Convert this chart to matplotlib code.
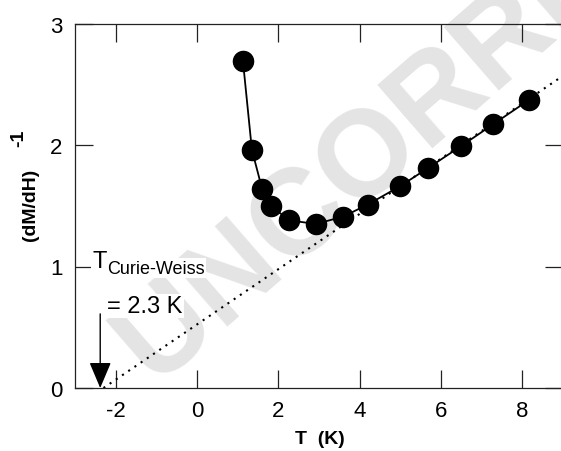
import numpy as np
import matplotlib
matplotlib.use('Agg')
import matplotlib.pyplot as plt

plt.rcParams['font.family'] = ['Liberation Sans', 'DejaVu Sans']

# data
temp = [1.13, 1.35, 1.60, 1.81, 2.27, 2.92, 3.59, 4.20, 4.99, 5.68, 6.49, 7.28, 8.16]
inv_susc = [2.69, 1.96, 1.64, 1.50, 1.38, 1.35, 1.41, 1.51, 1.66, 1.81, 1.99, 2.17, 2.37]
fit_temp = [-2.3, 9.0]      # Curie-Weiss line
fit_inv = [0.0, 2.57]
t_cw = -2.38                # arrow position
x_ticks = [-2, 0, 2, 4, 6, 8]
y_ticks = [0, 1, 2, 3]

W, H = 561, 452
fig = plt.figure(figsize=(W / 100, H / 100), dpi=100)
ax = fig.add_axes([75 / W, 1 - 389 / H, (563 - 75) / W, (389 - 24.5) / H])

# watermark, behind everything in the axes
ax.text(0.275, 0.15, 'UNCORRECTED', fontsize=88, fontweight='bold', color='#e4e4e4',
        rotation=41, rotation_mode='anchor', ha='left', va='baseline', zorder=0,
        transform=fig.transFigure, clip_on=False)

ax.plot(fit_temp, fit_inv, color='black', lw=1.5, linestyle=(0, (1, 2.6)), zorder=2)
ax.plot(temp, inv_susc, color='black', lw=1.3, marker='o', markersize=14.5, zorder=3)

# annotation
bb = dict(facecolor='white', edgecolor='none', pad=1)
ax.text(-2.58, 0.996, 'T', fontsize=17, ha='left', va='baseline', zorder=4, bbox=bb)
ax.text(-2.21, 0.947, 'Curie-Weiss', fontsize=13, ha='left', va='baseline', zorder=4, bbox=bb)
ax.text(-2.21, 0.626, '= 2.3 K', fontsize=17, ha='left', va='baseline', zorder=4, bbox=bb)
ax.annotate('', xy=(t_cw, 0.0), xytext=(t_cw, 0.61),
            arrowprops=dict(arrowstyle='-|>,head_length=0.9,head_width=0.38', color='black',
                            lw=1.0, shrinkA=0, shrinkB=0, mutation_scale=18), zorder=4)

ax.set_xlim(-3, 9)
ax.set_ylim(0, 3)
ax.set_xticks(x_ticks)
ax.set_yticks(y_ticks)
ax.set_xticklabels([str(v) for v in x_ticks])
ax.tick_params(direction='in', length=13, width=0.9, labelsize=16, top=True, right=True,
               color='#222222')
ax.tick_params(axis='x', pad=9)
ax.tick_params(axis='y', pad=9)
for s in ax.spines.values():
    s.set_linewidth(0.9)
    s.set_color('#222222')
    s.set_zorder(5)

fig.text(320 / W, 1 - 440 / H, 'T  (K)', fontsize=14, fontweight='bold', ha='center', va='center')
fig.text(30 / W, 1 - 205 / H, '(dM/dH)', fontsize=14, fontweight='bold', rotation=90,
         ha='center', va='center')
fig.text(19 / W, 1 - 138 / H, '-1', fontsize=14, fontweight='bold', rotation=90,
         ha='center', va='center')

fig.savefig('out.png', dpi=100)
